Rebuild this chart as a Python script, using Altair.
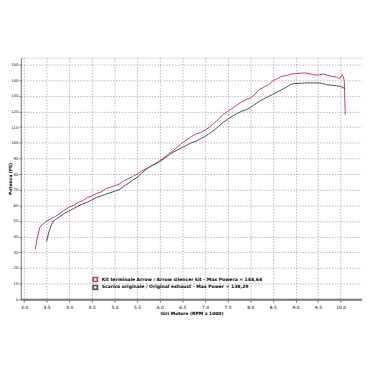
import altair as alt
import pandas as pd

series_names = [
    "Kit terminale Arrow / Arrow silencer kit - Max Powera = 144,64",
    "Scarico originale / Original exhaust - Max Power = 138,29",
]

arrow_rpm = [3.25, 3.30, 3.35, 3.40, 3.50, 3.60, 3.70, 3.80, 3.90, 4.00, 4.10, 4.20, 4.30, 4.40,
             4.50, 4.60, 4.70, 4.80, 4.90, 5.00, 5.10, 5.20, 5.30, 5.40, 5.50, 5.60, 5.70, 5.80,
             5.90, 6.00, 6.10, 6.20, 6.30, 6.40, 6.50, 6.60, 6.70, 6.80, 6.90, 7.00, 7.10, 7.20,
             7.30, 7.40, 7.50, 7.60, 7.70, 7.80, 7.90, 8.00, 8.10, 8.20, 8.30, 8.40, 8.50, 8.60,
             8.70, 8.80, 8.90, 9.00, 9.10, 9.20, 9.30, 9.40, 9.50, 9.60, 9.70, 9.80, 9.90, 9.95,
             10.00, 10.03, 10.06, 10.08, 10.10]
arrow_ps = [32, 40, 46, 47.5, 50, 51.5, 53, 55, 57, 59, 60, 62, 63, 65,
            66, 67.5, 68.5, 70.5, 71.5, 72.5, 73.5, 75.5, 77, 78.5, 80, 82, 83.5, 85,
            86.5, 88.5, 90.5, 93, 95, 97.5, 100, 102, 104, 105.5, 106.5, 108, 110, 112.5,
            115, 118, 120, 122, 124, 126, 127.5, 128.5, 131, 134, 135.5, 137, 139.5, 141,
            142.5, 143, 143.8, 144.2, 144.4, 144.64, 144.2, 143.5, 143.2, 144, 143.2, 142.5, 142, 141.2,
            141.5, 143.5, 142, 139, 118]

orig_rpm = [3.50, 3.55, 3.60, 3.65, 3.70, 3.80, 3.90, 4.00, 4.10, 4.20, 4.30, 4.40, 4.50, 4.60,
            4.70, 4.80, 4.90, 5.00, 5.10, 5.20, 5.30, 5.40, 5.50, 5.60, 5.70, 5.80, 5.90, 6.00,
            6.10, 6.20, 6.30, 6.40, 6.50, 6.60, 6.70, 6.80, 6.90, 7.00, 7.10, 7.20, 7.30, 7.40,
            7.50, 7.60, 7.70, 7.80, 7.90, 8.00, 8.10, 8.20, 8.30, 8.40, 8.50, 8.60, 8.70, 8.80,
            8.90, 9.00, 9.10, 9.20, 9.30, 9.40, 9.50, 9.60, 9.70, 9.80, 9.90, 10.00, 10.10]
orig_ps = [37, 43, 47, 50, 51, 53, 55, 56.5, 58, 59.5, 61, 62, 63.5, 65,
           66, 67, 68, 69, 70, 72, 74, 76, 78, 80.5, 83, 85, 86.5, 88,
           90, 92, 94, 95.5, 97, 98.5, 100, 101, 102.5, 104, 106, 108, 110.5, 113,
           115, 117, 118.5, 120, 121, 122.5, 124.5, 126.5, 128, 129.5, 131, 132.5, 134, 135.5,
           137.5, 137.8, 138, 138.2, 138.29, 138.2, 138.2, 138, 137, 136.8, 136.5, 136, 134.5]

x_ticks = [3.0, 3.5, 4.0, 4.5, 5.0, 5.5, 6.0, 6.5, 7.0, 7.5, 8.0, 8.5, 9.0, 9.5, 10.0]
y_ticks = list(range(0, 151, 10))

rows = []
for i, (r, p) in enumerate(zip(arrow_rpm, arrow_ps)):
    rows.append({"rpm": r, "ps": p, "serie": series_names[0], "o": i})
for i, (r, p) in enumerate(zip(orig_rpm, orig_ps)):
    rows.append({"rpm": r, "ps": p, "serie": series_names[1], "o": i})
df = pd.DataFrame(rows)

chart = alt.Chart(df).mark_line(strokeWidth=1).encode(
    x=alt.X("rpm:Q", scale=alt.Scale(domain=[2.93, 10.47], nice=False, zero=False),
            axis=alt.Axis(values=x_ticks, format=".1f", title="Giri Motore (RPM x 1000)",
                          labelFontSize=4.5, titleFontSize=4.5, titleFontWeight="bold",
                          labelPadding=2, titlePadding=2, tickSize=3, tickColor="#777",
                          domainColor="#777", domainWidth=2,
                          grid=True, gridDash=[1.5, 1.5], gridColor="#999999", gridWidth=0.7)),
    y=alt.Y("ps:Q", scale=alt.Scale(domain=[0, 154.4], nice=False),
            axis=alt.Axis(values=y_ticks, title="Potenza (PS)",
                          labelFontSize=3.8, titleFontSize=4.5, titleFontWeight="bold",
                          labelPadding=1, tickSize=2, tickColor="#777",
                          titleX=-13, titleBaseline="top", titleAngle=270,
                          domainColor="#777", domainWidth=1,
                          grid=True, gridDash=[1.5, 1.5], gridColor="#999999", gridWidth=0.7)),
    color=alt.Color("serie:N", scale=alt.Scale(domain=series_names, range=["#c8405e", "#46506a"]),
                    legend=alt.Legend(orient="none", legendX=72, legendY=222, title=None,
                                      symbolType="square", symbolSize=18, symbolStrokeWidth=1.8,
                                      clipHeight=6, labelFontSize=4.6, labelFontWeight="bold",
                                      rowPadding=2, labelOffset=3, labelLimit=400)),
    order="o:Q",
).properties(
    width=346, height=245,
    autosize=alt.AutoSizeParams(type="none"),
    padding={"left": 13, "top": 48, "right": 0, "bottom": 40},
).configure_view(
    stroke="#999999", strokeWidth=1
).configure(font="DejaVu Sans")

chart.save("out.html", embed_options={"renderer": "svg", "actions": False})
